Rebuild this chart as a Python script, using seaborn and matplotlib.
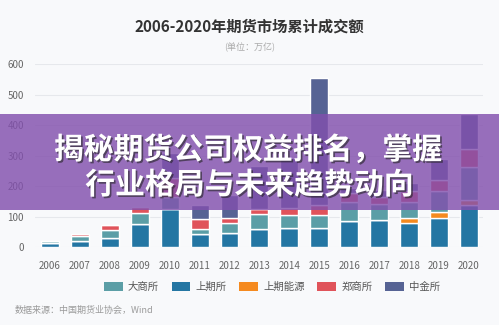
import matplotlib
matplotlib.use("Agg")
import matplotlib.pyplot as plt
import seaborn as sns
import numpy as np
import pandas as pd
from matplotlib.patches import Rectangle, FancyBboxPatch
import matplotlib.patheffects as pe

years = ["2006", "2007", "2008", "2009", "2010", "2011", "2012", "2013",
         "2014", "2015", "2016", "2017", "2018", "2019", "2020"]
shfe = [12.6, 21.0, 28.5, 73.8, 123.5, 43.5, 44.6, 60.1, 63.0, 63.6, 85.0, 89.9, 77.8, 94.0, 138.8]
ine = [0, 0, 0, 0, 0, 0, 0, 0, 0, 0, 0, 0, 16.3, 20.0, 14.0]
dce = [5.5, 15.5, 26.0, 37.2, 41.7, 15.7, 33.1, 47.0, 41.5, 41.9, 61.2, 52.1, 52.2, 68.0, 109.2]
czce = [3.0, 4.5, 16.5, 19.5, 61.7, 33.4, 17.3, 18.9, 23.3, 31.0, 30.6, 21.4, 38.2, 37.0, 60.1]
cffex = [0, 0, 0, 0, 82.1, 43.8, 75.8, 141.0, 164.0, 417.8, 18.2, 24.6, 26.1, 69.6, 115.4]

stack_order = ["上期所", "上期能源", "大商所", "郑商所", "中金所"]
legend_order = ["大商所", "上期所", "上期能源", "郑商所", "中金所"]
series = {"上期所": shfe, "上期能源": ine, "大商所": dce, "郑商所": czce, "中金所": cffex}
colors = {"大商所": "#5b9ea6", "上期所": "#2476a3", "上期能源": "#f58a1f",
          "郑商所": "#e0535a", "中金所": "#566394"}

sns.set_theme(style="white")
plt.rcParams["font.family"] = ["Noto Sans CJK SC", "DejaVu Sans"]

bg = "#f8f9fb"
fig = plt.figure(figsize=(4.99, 3.25), dpi=100, facecolor=bg)
ax = fig.add_axes([0.070, 0.240, 0.898, 0.563])
ax.set_facecolor(bg)

bottom = np.zeros(len(years))
for name in stack_order:
    vals = np.array(series[name], dtype=float)
    df = pd.DataFrame({"year": years, "value": vals})
    sns.barplot(data=df, x="year", y="value", bottom=bottom, color=colors[name],
                width=0.6, saturation=1, ax=ax, zorder=3)
    bottom = bottom + vals

ax.set_ylim(0, 600)
ax.set_xlim(-0.5, 14.47)
ax.set_yticks([0, 100, 200, 300, 400, 500, 600])
ax.yaxis.grid(True, color="#e6e8ec", linewidth=0.8, zorder=0)
ax.set_axisbelow(True)
for s in ax.spines.values():
    s.set_visible(False)
ax.set_xlabel("")
ax.set_ylabel("")
ax.tick_params(axis="y", labelsize=7, colors="#666666", length=0, pad=8)
ax.tick_params(axis="x", labelsize=7, colors="#666666", length=0, pad=10)

# legend
handles = [FancyBboxPatch((0, 0), 1, 1, boxstyle="round,pad=0,rounding_size=0.25",
                          facecolor=colors[n], edgecolor="none") for n in legend_order]
leg = fig.legend(handles, legend_order, loc="center", bbox_to_anchor=(0.545, 0.117),
                 ncol=5, frameon=False, fontsize=7.5, handlelength=1.8, handleheight=0.9,
                 columnspacing=1.2, handletextpad=0.5)
for t in leg.get_texts():
    t.set_color("#555555")

# titles
fig.text(0.5, 0.917, "2006-2020年期货市场累计成交额", ha="center", va="center",
         fontsize=11, fontweight="bold", color="#333333")
fig.text(0.5, 0.853, "(单位：万亿)", ha="center", va="center", fontsize=6.5, color="#aaaaaa")
fig.text(0.03, 0.045, "数据来源：中国期货业协会，Wind", ha="left", va="center",
         fontsize=6.5, color="#9a9a9a")

# overlay banner
fig.patches.append(Rectangle((0, 1 - 210 / 325), 1, 96 / 325, transform=fig.transFigure,
                             facecolor="#8250ad", alpha=0.82, edgecolor="none", zorder=10))
shadow = [pe.withSimplePatchShadow(offset=(1.2, -1.2), shadow_rgbFace="#222222", alpha=0.6)]
t1 = fig.text(0.497, 1 - 150 / 325, "揭秘期货公司权益排名，掌握", ha="center", va="center",
              fontsize=21.5, fontweight="heavy", color="white", zorder=11)
t2 = fig.text(0.5, 1 - 185 / 325, "行业格局与未来趋势动向", ha="center", va="center",
              fontsize=21.5, fontweight="heavy", color="white", zorder=11)
t1.set_path_effects(shadow)
t2.set_path_effects(shadow)

fig.savefig("out.png", dpi=100, facecolor=bg)
